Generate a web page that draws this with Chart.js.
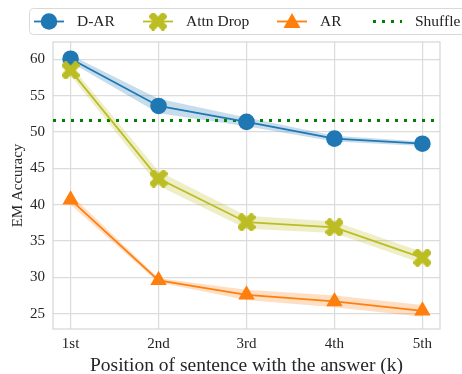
<!DOCTYPE html>
<html>
<head>
<meta charset="utf-8">
<script src="https://cdn.jsdelivr.net/npm/chart.js@4/dist/chart.umd.min.js"></script>
<style>
  html, body { margin: 0; padding: 0; background: #ffffff; }
  #wrap { width: 462px; height: 374px; position: relative; }
</style>
</head>
<body>
<div id="wrap"><canvas id="c" width="462" height="374"></canvas></div>
<script>
// Position of the sentence holding the answer
const positions = ['1st', '2nd', '3rd', '4th', '5th'];

// EM accuracy per method (mean), with lower / upper band
const darMean  = [60.1, 53.6, 51.4, 49.1, 48.4];
const darLow   = [59.6, 52.6, 50.8, 48.7, 48.1];
const darHigh  = [60.6, 54.6, 52.0, 49.5, 48.7];

const attnMean = [58.5, 43.6, 37.6, 36.9, 32.7];
const attnLow  = [57.8, 42.6, 36.7, 36.1, 31.9];
const attnHigh = [59.2, 44.6, 38.5, 37.7, 33.5];

const arMean   = [40.7, 29.6, 27.6, 26.7, 25.4];
const arLow    = [40.0, 29.3, 26.9, 25.9, 24.6];
const arHigh   = [41.4, 29.9, 28.3, 27.5, 26.2];

const shuffleValue = 51.6;

const yTickValues = [25, 30, 35, 40, 45, 50, 55, 60];

const BLUE = '#1f77b4', OLIVE = '#bcbd22', ORANGE = '#ff7f0e', GREEN = '#008000';
const SERIF = '"Liberation Serif", "DejaVu Serif", serif';

// Thick "X" marker drawn onto a small canvas
function makeCross(size, color) {
  const cv = document.createElement('canvas');
  cv.width = size; cv.height = size;
  const g = cv.getContext('2d');
  g.translate(size / 2, size / 2);
  g.rotate(Math.PI / 4);
  const a = size * 0.58, t = size * 0.2;
  g.fillStyle = color;
  g.beginPath();
  g.moveTo(-t, -a); g.lineTo(t, -a); g.lineTo(t, -t); g.lineTo(a, -t);
  g.lineTo(a, t); g.lineTo(t, t); g.lineTo(t, a); g.lineTo(-t, a);
  g.lineTo(-t, t); g.lineTo(-a, t); g.lineTo(-a, -t); g.lineTo(-t, -t);
  g.closePath();
  g.fill();
  return cv;
}
const crossMarker = makeCross(18, OLIVE);

const xy = arr => arr.map((v, i) => ({ x: i, y: v }));

function band(high, low, rgba, order) {
  return [
    { data: xy(high), borderWidth: 0, pointRadius: 0, backgroundColor: rgba,
      fill: '+1', order: order, tension: 0 },
    { data: xy(low), borderWidth: 0, pointRadius: 0, fill: false, order: order, tension: 0 }
  ];
}

const legendItems = [
  { label: 'D-AR', color: BLUE, kind: 'circle' },
  { label: 'Attn Drop', color: OLIVE, kind: 'cross' },
  { label: 'AR', color: ORANGE, kind: 'triangle' },
  { label: 'Shuffle', color: GREEN, kind: 'dots' }
];

const framePlugin = {
  id: 'frame',
  beforeDatasetsDraw(chart) {
    const { ctx, chartArea: a } = chart;
    ctx.save();
    ctx.strokeStyle = '#d6d6d6';
    ctx.lineWidth = 1.2;
    ctx.strokeRect(a.left, a.top, a.right - a.left, a.bottom - a.top);
    ctx.restore();
  }
};

const legendPlugin = {
  id: 'topLegend',
  afterDraw(chart) {
    const ctx = chart.ctx;
    ctx.save();
    const bx = 29.5, by = 8.5, bw = 450, bh = 26, r = 4;
    ctx.beginPath();
    ctx.moveTo(bx + r, by);
    ctx.lineTo(bx + bw - r, by);
    ctx.arcTo(bx + bw, by, bx + bw, by + r, r);
    ctx.lineTo(bx + bw, by + bh - r);
    ctx.arcTo(bx + bw, by + bh, bx + bw - r, by + bh, r);
    ctx.lineTo(bx + r, by + bh);
    ctx.arcTo(bx, by + bh, bx, by + bh - r, r);
    ctx.lineTo(bx, by + r);
    ctx.arcTo(bx, by, bx + r, by, r);
    ctx.closePath();
    ctx.fillStyle = 'rgba(255,255,255,0.85)';
    ctx.fill();
    ctx.strokeStyle = '#d9d9d9';
    ctx.lineWidth = 1;
    ctx.stroke();

    const cy = 21.5;
    const starts = [34, 143, 277, 372];
    ctx.font = '15.5px ' + SERIF;
    ctx.textBaseline = 'middle';
    legendItems.forEach((it, i) => {
      const x0 = starts[i], x1 = x0 + 30, mx = (x0 + x1) / 2;
      ctx.strokeStyle = it.color;
      ctx.fillStyle = it.color;
      if (it.kind === 'dots') {
        ctx.lineWidth = 3;
        ctx.setLineDash([3, 6]);
        ctx.beginPath(); ctx.moveTo(x0 + 1, cy); ctx.lineTo(x1, cy); ctx.stroke();
        ctx.setLineDash([]);
      } else {
        ctx.lineWidth = 1.8;
        ctx.beginPath(); ctx.moveTo(x0, cy); ctx.lineTo(x1, cy); ctx.stroke();
        if (it.kind === 'circle') {
          ctx.beginPath(); ctx.arc(mx, cy, 8.3, 0, Math.PI * 2); ctx.fill();
        } else if (it.kind === 'cross') {
          ctx.drawImage(crossMarker, mx - 9, cy - 9);
        } else {
          ctx.beginPath();
          ctx.moveTo(mx, cy - 8.5); ctx.lineTo(mx + 8.5, cy + 6.5); ctx.lineTo(mx - 8.5, cy + 6.5);
          ctx.closePath(); ctx.fill();
        }
      }
      ctx.fillStyle = '#222222';
      ctx.fillText(it.label, x1 + 13, cy + 0.5);
    });
    ctx.restore();
  }
};

new Chart(document.getElementById('c'), {
  type: 'line',
  data: {
    datasets: [
      { label: 'AR', data: xy(arMean), borderColor: ORANGE, backgroundColor: ORANGE,
        borderWidth: 1.8, pointStyle: 'triangle', pointRadius: 9.5, pointBorderWidth: 0,
        fill: false, order: 0 },
      { label: 'Attn Drop', data: xy(attnMean), borderColor: OLIVE, backgroundColor: OLIVE,
        borderWidth: 1.8, pointStyle: crossMarker, pointRadius: 9, fill: false, order: 1 },
      { label: 'D-AR', data: xy(darMean), borderColor: BLUE, backgroundColor: BLUE,
        borderWidth: 1.8, pointStyle: 'circle', pointRadius: 8.3, pointBorderWidth: 0,
        fill: false, order: 2 },
      { label: 'Shuffle', data: [{ x: -0.2, y: shuffleValue }, { x: 4.2, y: shuffleValue }],
        borderColor: GREEN, borderWidth: 3, borderDash: [3, 6], pointRadius: 0,
        fill: false, order: 3 },
      ...band(arHigh, arLow, 'rgba(255,127,14,0.25)', 4),
      ...band(attnHigh, attnLow, 'rgba(188,189,34,0.25)', 5),
      ...band(darHigh, darLow, 'rgba(31,119,180,0.25)', 6)
    ]
  },
  options: {
    responsive: false,
    animation: false,
    devicePixelRatio: 1,
    layout: { padding: { top: 42, right: 22, left: 0, bottom: 0 } },
    plugins: { legend: { display: false }, tooltip: { enabled: false } },
    scales: {
      x: {
        type: 'linear', min: -0.2, max: 4.2,
        afterBuildTicks(axis) { axis.ticks = positions.map((_, i) => ({ value: i })); },
        afterFit(axis) { axis.height = 45; },
        ticks: {
          callback: v => positions[v],
          color: '#262626', padding: 6,
          font: { family: SERIF, size: 15 }
        },
        grid: { color: '#dcdcdc', lineWidth: 1.2, drawTicks: false },
        border: { display: false },
        title: {
          display: true, text: 'Position of sentence with the answer (k)',
          color: '#262626', font: { family: SERIF, size: 19.5, lineHeight: 1 },
          padding: { top: 0, bottom: -2 }
        }
      },
      y: {
        min: 22.9, max: 62.4,
        afterBuildTicks(axis) { axis.ticks = yTickValues.map(v => ({ value: v })); },
        afterFit(axis) { axis.width = 53; },
        ticks: {
          color: '#262626', padding: 8,
          font: { family: SERIF, size: 15 }
        },
        grid: { color: '#dcdcdc', lineWidth: 1.2, drawTicks: false },
        border: { display: false },
        title: {
          display: true, text: 'EM Accuracy',
          color: '#262626', font: { family: SERIF, size: 15, lineHeight: 1 },
          padding: { top: 11, bottom: 0 }
        }
      }
    }
  },
  plugins: [framePlugin, legendPlugin]
});
</script>
</body>
</html>
